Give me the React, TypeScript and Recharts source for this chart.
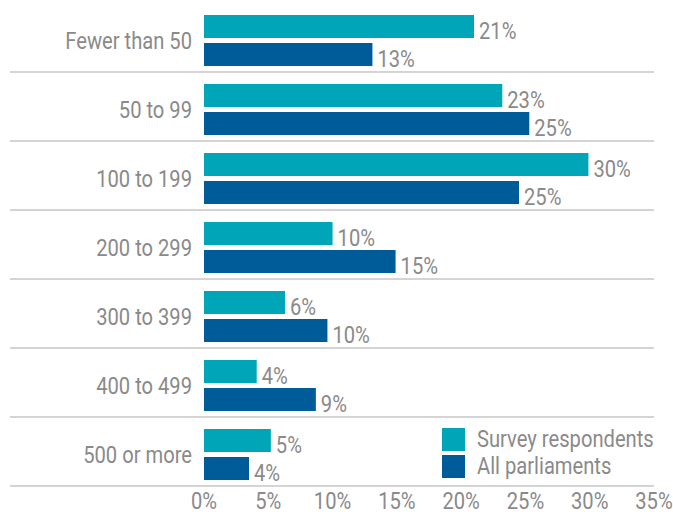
import React from 'react';
import { BarChart, Bar, XAxis, YAxis, Legend, LabelList } from 'recharts';

const categories = ['Fewer than 50', '50 to 99', '100 to 199', '200 to 299', '300 to 399', '400 to 499', '500 or more'];
const surveyRespondents = [21.0, 23.2, 29.9, 10.0, 6.3, 4.1, 5.2];
const allParliaments = [13.1, 25.3, 24.5, 14.9, 9.6, 8.7, 3.5];
const xTicks = [0, 5, 10, 15, 20, 25, 30, 35];

const TEAL = '#00a6b8';
const BLUE = '#005b99';
const GRAY = '#8a8a8a';
const FONT = 'Roboto, "Liberation Sans", sans-serif';
const FS = 24;
const SX = 0.84;

const data = categories.map((name, i) => ({
  name,
  survey: surveyRespondents[i],
  all: allParliaments[i],
}));

const WIDTH = 673;
const HEIGHT = 512;
const MARGIN = { top: 6, right: 19, bottom: 0, left: 0 };
const Y_WIDTH = 204;
const X_HEIGHT = 23;
const plotHeight = HEIGHT - MARGIN.top - MARGIN.bottom - X_HEIGHT;
const band = plotHeight / categories.length;

const NarrowText = ({ x, y, anchor, children }: any) => (
  <text
    transform={`translate(${x},${y}) scale(${SX},1)`}
    textAnchor={anchor}
    fill={GRAY}
    fontSize={FS}
    fontFamily={FONT}
  >
    {children}
  </text>
);

const YTick = (props: any) => {
  const { x, y, payload } = props;
  const lineY = y + band / 2 - 3;
  return (
    <g>
      <NarrowText x={x - 4} y={y + 8} anchor="end">
        {payload.value}
      </NarrowText>
      <line x1={10} x2={WIDTH - MARGIN.right} y1={lineY} y2={lineY} stroke="#d4d4d4" strokeWidth={2} />
    </g>
  );
};

const XTick = (props: any) => {
  const { x, y, payload } = props;
  return (
    <NarrowText x={x} y={y + 16} anchor="middle">
      {`${payload.value}%`}
    </NarrowText>
  );
};

const ValueLabel = (props: any) => {
  const { x, y, width, height, value } = props;
  return (
    <NarrowText x={x + width + 5} y={y + height / 2 + 12} anchor="start">
      {`${Math.round(value)}%`}
    </NarrowText>
  );
};

const LegendContent = () => (
  <div style={{ fontFamily: FONT, fontSize: FS, color: GRAY, lineHeight: '23px' }}>
    {[
      { label: 'Survey respondents', color: TEAL },
      { label: 'All parliaments', color: BLUE },
    ].map((it, i) => (
      <div key={it.label} style={{ display: 'flex', alignItems: 'center', marginTop: i === 0 ? 0 : 4, whiteSpace: 'nowrap' }}>
        <span style={{ display: 'inline-block', width: 23, height: 23, background: it.color, marginRight: 12, flex: 'none' }} />
        <span style={{ display: 'inline-block', transform: `scaleX(${SX})`, transformOrigin: 'left center' }}>{it.label}</span>
      </div>
    ))}
  </div>
);

export default function App() {
  return (
    <div style={{ position: 'absolute', left: 0, top: 0 }}>
      <BarChart
        width={WIDTH}
        height={HEIGHT}
        data={data}
        layout="vertical"
        margin={MARGIN}
        barSize={23}
        barGap={5}
      >
        <XAxis
          type="number"
          domain={[0, 35]}
          ticks={xTicks}
          axisLine={false}
          tickLine={false}
          tickSize={0}
          tickMargin={4}
          height={X_HEIGHT}
          interval={0}
          tick={<XTick />}
        />
        <YAxis
          type="category"
          dataKey="name"
          width={Y_WIDTH}
          axisLine={false}
          tickLine={false}
          interval={0}
          tick={<YTick />}
        />
        <Legend
          layout="vertical"
          align="center"
          verticalAlign="middle"
          wrapperStyle={{ left: 442, top: 428, width: 'auto' }}
          content={<LegendContent />}
        />
        <Bar dataKey="survey" name="Survey respondents" fill={TEAL} isAnimationActive={false}>
          <LabelList dataKey="survey" content={<ValueLabel />} />
        </Bar>
        <Bar dataKey="all" name="All parliaments" fill={BLUE} isAnimationActive={false}>
          <LabelList dataKey="all" content={<ValueLabel />} />
        </Bar>
      </BarChart>
    </div>
  );
}
